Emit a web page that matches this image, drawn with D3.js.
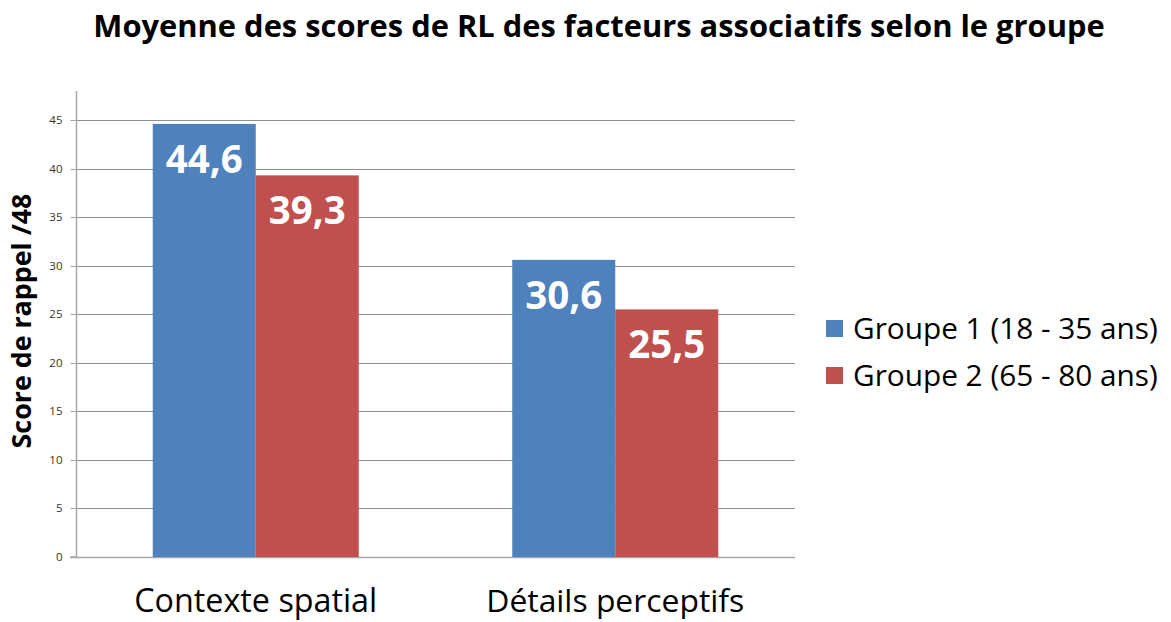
<!DOCTYPE html>
<html><head><meta charset="utf-8">
<script src="https://cdn.jsdelivr.net/npm/d3@7"></script>
<style>body{margin:0;background:#fff}svg{display:block}</style>
</head><body>
<script>
const categories = ["Contexte spatial", "Détails perceptifs"];
const seriesNames = ["Groupe 1 (18 - 35 ans)", "Groupe 2 (65 - 80 ans)"];
const group1 = [44.6, 30.6];
const group2 = [39.3, 25.5];
const valueLabels1 = ["44,6", "30,6"];
const valueLabels2 = ["39,3", "25,5"];
const yTicks = [0, 5, 10, 15, 20, 25, 30, 35, 40, 45];
const colors = ["#4F81BD", "#C0504D"];

(function () {
const W = 1171, H = 622;
const svg = d3.select("body").append("svg").attr("width", W).attr("height", H);
const F = "'Open Sans', 'Noto Sans', sans-serif";

function fit(sel, target) {
  const fs = parseFloat(sel.attr("font-size"));
  const len = sel.node().getComputedTextLength();
  if (len > 0) sel.attr("font-size", fs * target / len);
}

const pLeft = 76, pRight = 795, pTop = 90.9, pBottom = 557;
const y = d3.scaleLinear().domain([0, 48]).range([pBottom, pTop]);
const x0 = d3.scaleBand().domain(categories).range([pLeft, pRight]).padding(0);
const gap = (x0.bandwidth() - 206) / 2;
const x1 = d3.scaleBand().domain([0, 1]).range([gap, x0.bandwidth() - gap]).padding(0);

// grid
svg.append("g").selectAll("line").data(yTicks).join("line")
  .attr("x1", pLeft).attr("x2", pRight)
  .attr("y1", d => Math.round(y(d)) + 0.5).attr("y2", d => Math.round(y(d)) + 0.5)
  .attr("stroke", "#8f8f8f").attr("stroke-width", 1);

// y axis
const ya = svg.append("g").attr("transform", `translate(${pLeft + 0.5},0)`)
  .call(d3.axisLeft(y).tickValues(yTicks).tickSize(6).tickPadding(8).tickFormat(d => d));
ya.select(".domain").attr("stroke", "#a6a6a6").attr("stroke-width", 1.5).attr("d", `M-6,${pBottom}H0V${pTop}`);
ya.selectAll(".tick line").attr("stroke", "#a6a6a6");
ya.selectAll(".tick text").attr("font-family", F).attr("font-size", 11.5).attr("fill", "#333");
ya.selectAll(".tick").attr("transform", d => `translate(0,${Math.round(y(d)) + 0.5})`);

// bottom axis line
svg.append("line").attr("x1", pLeft - 6).attr("x2", pRight).attr("y1", pBottom + 0.5).attr("y2", pBottom + 0.5)
  .attr("stroke", "#a6a6a6").attr("stroke-width", 1.5);

// bars
const data = categories.map((c, i) => ({c, vals: [group1[i], group2[i]], labs: [valueLabels1[i], valueLabels2[i]]}));
const g = svg.append("g").selectAll("g").data(data).join("g")
  .attr("transform", d => `translate(${x0(d.c)},0)`);
g.selectAll("rect").data(d => d.vals.map((v, k) => ({v, k}))).join("rect")
  .attr("x", d => x1(d.k)).attr("width", x1.bandwidth())
  .attr("y", d => y(d.v)).attr("height", d => pBottom - y(d.v))
  .attr("fill", d => colors[d.k]);
g.selectAll("text").data(d => d.vals.map((v, k) => ({v, k, l: d.labs[k]}))).join("text")
  .attr("x", d => x1(d.k) + x1.bandwidth() / 2).attr("y", d => y(d.v) + 49)
  .attr("text-anchor", "middle").attr("font-family", F).attr("font-weight", 700)
  .attr("font-size", 36).attr("fill", "#fff").text(d => d.l)
  .each(function() { fit(d3.select(this), 77); });

// category labels
svg.append("g").selectAll("text").data(categories).join("text")
  .attr("x", d => x0(d) + x0.bandwidth() / 2).attr("y", 612)
  .attr("text-anchor", "middle").attr("font-family", F).attr("font-size", 28).attr("fill", "#000")
  .text(d => d)
  .each(function(d, i) { fit(d3.select(this), i === 0 ? 243 : 258); });

// title
const t = svg.append("text").attr("x", 599).attr("y", 37).attr("text-anchor", "middle")
  .attr("font-family", F).attr("font-weight", 700).attr("font-size", 28).attr("fill", "#000")
  .text("Moyenne des scores de RL des facteurs associatifs selon le groupe");
fit(t, 1012);

// y title
const yt = svg.append("text").attr("transform", "translate(31,321) rotate(-90)")
  .attr("text-anchor", "middle").attr("font-family", F).attr("font-weight", 700)
  .attr("font-size", 20).attr("fill", "#000").text("Score de rappel /48");
fit(yt, 255);

// legend
const lg = svg.append("g").selectAll("g").data(seriesNames).join("g")
  .attr("transform", (d, i) => `translate(826,${320 + i * 47})`);
lg.append("rect").attr("width", 17).attr("height", 17).attr("fill", (d, i) => colors[i]);
lg.append("text").attr("x", 27).attr("y", 19).attr("font-family", F).attr("font-size", 24)
  .attr("fill", "#000").text(d => d)
  .each(function() { fit(d3.select(this), 305); });
})();
</script>
</body></html>
